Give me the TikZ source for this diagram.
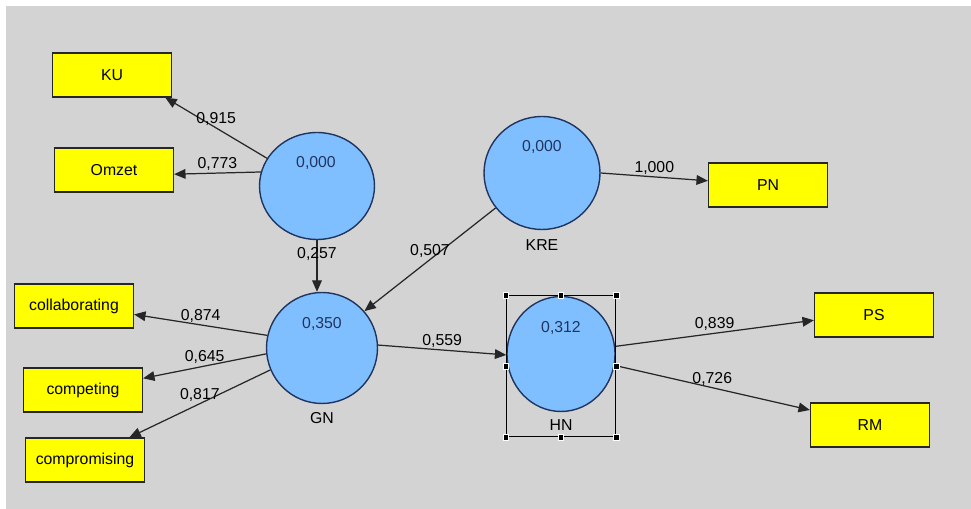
\documentclass[tikz,border=0pt]{standalone}
\usepackage{fontspec}
\setsansfont{Liberation Sans}
\usetikzlibrary{arrows.meta, positioning, shapes.geometric, fit}
\definecolor{cbg}{HTML}{D3D3D3}
\definecolor{cyellow}{HTML}{FFFF00}
\definecolor{cblue}{HTML}{80BFFF}
\definecolor{cnavy}{HTML}{1F3560}
\definecolor{cline}{HTML}{262626}
\tikzset{
  every picture/.style={font=\sffamily\small, line width=0.7pt},
  ind/.style={draw=cline, fill=cyellow, minimum width=2.38cm, minimum height=0.88cm, inner sep=0pt},
  lv/.style 2 args={ellipse, draw=cnavy, fill=cblue, line width=0.8pt, minimum width=#1, minimum height=#2, inner sep=0pt},
  arrow/.style={-{Triangle[length=6.5pt, width=5.5pt]}, draw=cline},
  coef/.style={above, inner sep=1pt, text=black},
  val/.style={text=cnavy},
  handle/.style={draw=white, fill=black, line width=0.3pt, minimum size=0.11cm, inner sep=0pt},
}

\begin{document}
\begin{tikzpicture}[x=0.02cm, y=-0.02cm]
  \useasboundingbox (0,0) rectangle (971,509);
  \fill[cbg] (6,6) rectangle (971,509);

  % indicators
  \node[ind] (ku) at (112,75) {KU};
  \node[ind] (omzet) at (114,170) {Omzet};
  \node[ind] (pn) at (768,185) {PN};
  \node[ind] (ps) at (874,315) {PS};
  \node[ind] (rm) at (870,425) {RM};
  \node[ind] (collab) at (74,306) {collaborating};
  \node[ind] (comp) at (83,390) {competing};
  \node[ind] (compr) at (85,460) {compromising};

  % latent variables
  \node[lv={2.3cm}{2.14cm}] (lvA) at (317,186) {};
  \node[lv={2.32cm}{2.26cm}] (kre) at (542,173) {};
  \node[lv={2.22cm}{2.22cm}] (gn) at (322,348) {};
  \node[lv={2.16cm}{2.3cm}] (hn) at (561,354) {};
  \node[val] (lvA val) at (316,163) {0,000};
  \node[val] (kre val) at (542,147) {0,000};
  \node[val] (gn val) at (322,324) {0,350};
  \node[val] (hn val) at (561,328) {0,312};
  \node (kre name) at (542,245) {KRE};
  \node (gn name) at (322,418) {GN};
  \node (hn name) at (561,425) {HN};

  % paths
  \draw[arrow] (lvA.151) -- (ku.-23) node[coef, midway] {0,915};
  \draw[arrow] (lvA.166) -- (omzet.-4) node[coef, midway] {0,773};
  \draw[arrow] (lvA.south) -- (lvA.south |- gn.north) node[pos=0.27, inner sep=0pt] {0,257};
  \draw[arrow] (kre.east) -- (pn.176) node[coef, midway] {1,000};
  \draw[arrow] (kre.217) -- (gn.41) node[coef, midway] {0,507};
  \draw[arrow] (gn.167) -- (collab.-8) node[coef, midway] {0,874};
  \draw[arrow] (gn.186) -- (comp.11) node[coef, midway] {0,645};
  \draw[arrow] (gn.203) -- (compr.27) node[coef, midway] {0,817};
  \draw[arrow] (gn.3) -- (hn.181) node[coef, midway] {0,559};
  \draw[arrow] (hn.8) -- (ps.185) node[coef, midway] {0,839};
  \draw[arrow] (hn.-12) -- (rm.166) node[coef, midway] {0,726};

  % selection frame on HN
  \node[draw=black, line width=0.6pt, fit=(hn)(hn name), inner sep=0pt] (sel) {};
  \foreach \a in {north west, north, north east, east, south east, south, south west, west}
    \node[handle] at (sel.\a) {};
\end{tikzpicture}
\end{document}
